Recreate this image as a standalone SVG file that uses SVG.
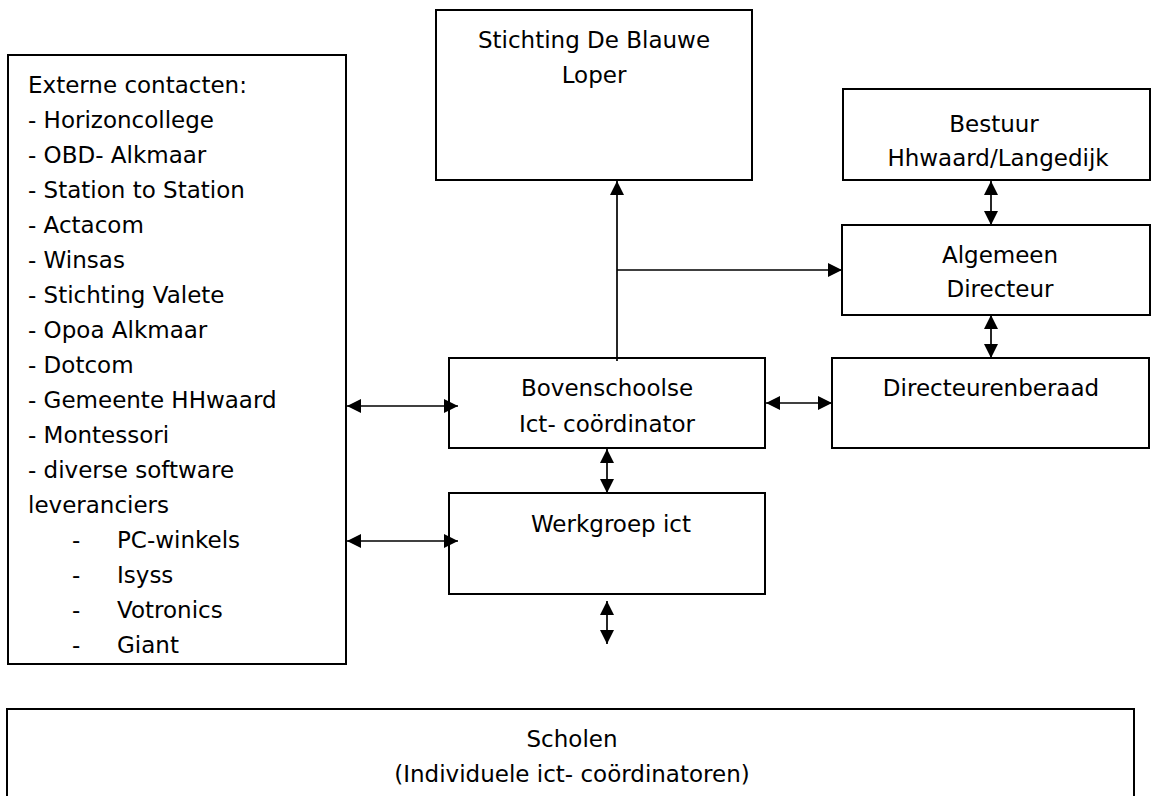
<svg xmlns="http://www.w3.org/2000/svg" width="1151" height="796" viewBox="0 0 1151 796">
<defs>
<style>
.box{fill:#fff;stroke:#000;stroke-width:2}
.t{font-family:"DejaVu Sans",sans-serif;font-size:23px;fill:#000}
.c{text-anchor:middle}
.ln{stroke:#000;stroke-width:1.7;fill:none}
.a2{marker-start:url(#ah);marker-end:url(#ah)}
.a1{marker-end:url(#ah)}
</style>
<marker id="ah" markerUnits="userSpaceOnUse" markerWidth="16" markerHeight="16" refX="14" refY="7" orient="auto-start-reverse">
<path d="M0,0 L14,7 L0,14 z" fill="#000"/>
</marker>
</defs>
<rect width="1151" height="796" fill="#fff"/>
<g id="externe-contacten">
<rect class="box" x="8" y="55" width="338" height="609"/>
<text class="t" x="28" y="93">Externe contacten:</text>
<text class="t" x="28" y="128">- Horizoncollege</text>
<text class="t" x="28" y="163">- OBD- Alkmaar</text>
<text class="t" x="28" y="198">- Station to Station</text>
<text class="t" x="28" y="233">- Actacom</text>
<text class="t" x="28" y="268">- Winsas</text>
<text class="t" x="28" y="303">- Stichting Valete</text>
<text class="t" x="28" y="338">- Opoa Alkmaar</text>
<text class="t" x="28" y="373">- Dotcom</text>
<text class="t" x="28" y="408">- Gemeente HHwaard</text>
<text class="t" x="28" y="443">- Montessori</text>
<text class="t" x="28" y="478">- diverse software</text>
<text class="t" x="28" y="513">leveranciers</text>
<text class="t" x="72" y="548">-</text><text class="t" x="117" y="548">PC-winkels</text>
<text class="t" x="72" y="583">-</text><text class="t" x="117" y="583">Isyss</text>
<text class="t" x="72" y="618">-</text><text class="t" x="117" y="618">Votronics</text>
<text class="t" x="72" y="653">-</text><text class="t" x="117" y="653">Giant</text>
</g>
<g id="stichting">
<rect class="box" x="436" y="10" width="316" height="170"/>
<text class="t c" x="594" y="48">Stichting De Blauwe</text>
<text class="t c" x="594" y="83">Loper</text>
</g>
<g id="bestuur">
<rect class="box" x="843" y="89" width="307" height="91"/>
<text class="t c" x="994" y="132">Bestuur</text>
<text class="t c" x="998" y="166">Hhwaard/Langedijk</text>
</g>
<g id="algemeen-directeur">
<rect class="box" x="842" y="225" width="308" height="90"/>
<text class="t c" x="1000" y="263">Algemeen</text>
<text class="t c" x="1000" y="297">Directeur</text>
</g>
<g id="directeurenberaad">
<rect class="box" x="832" y="358" width="317" height="90"/>
<text class="t c" x="991" y="396">Directeurenberaad</text>
</g>
<g id="bovenschoolse">
<rect class="box" x="449" y="358" width="316" height="90"/>
<text class="t c" x="607" y="396">Bovenschoolse</text>
<text class="t c" x="607" y="432">Ict- coördinator</text>
</g>
<g id="werkgroep">
<rect class="box" x="449" y="493" width="316" height="101"/>
<text class="t c" x="611" y="532">Werkgroep ict</text>
</g>
<g id="scholen">
<rect class="box" x="7" y="709" width="1127" height="110"/>
<text class="t c" x="572" y="747">Scholen</text>
<text class="t c" x="572" y="782">(Individuele ict- coördinatoren)</text>
</g>
<g id="connectors">
<line class="ln a1" x1="617" y1="361" x2="617" y2="181"/>
<line class="ln a1" x1="617" y1="270" x2="842" y2="270"/>
<line class="ln a2" x1="991" y1="181" x2="991" y2="225"/>
<line class="ln a2" x1="991" y1="315" x2="991" y2="358"/>
<line class="ln a2" x1="766" y1="403" x2="832" y2="403"/>
<line class="ln a2" x1="347" y1="406" x2="458" y2="406"/>
<line class="ln a2" x1="347" y1="541" x2="458" y2="541"/>
<line class="ln a2" x1="607" y1="449" x2="607" y2="493"/>
<line class="ln a2" x1="607" y1="601" x2="607" y2="644"/>
</g>
</svg>
